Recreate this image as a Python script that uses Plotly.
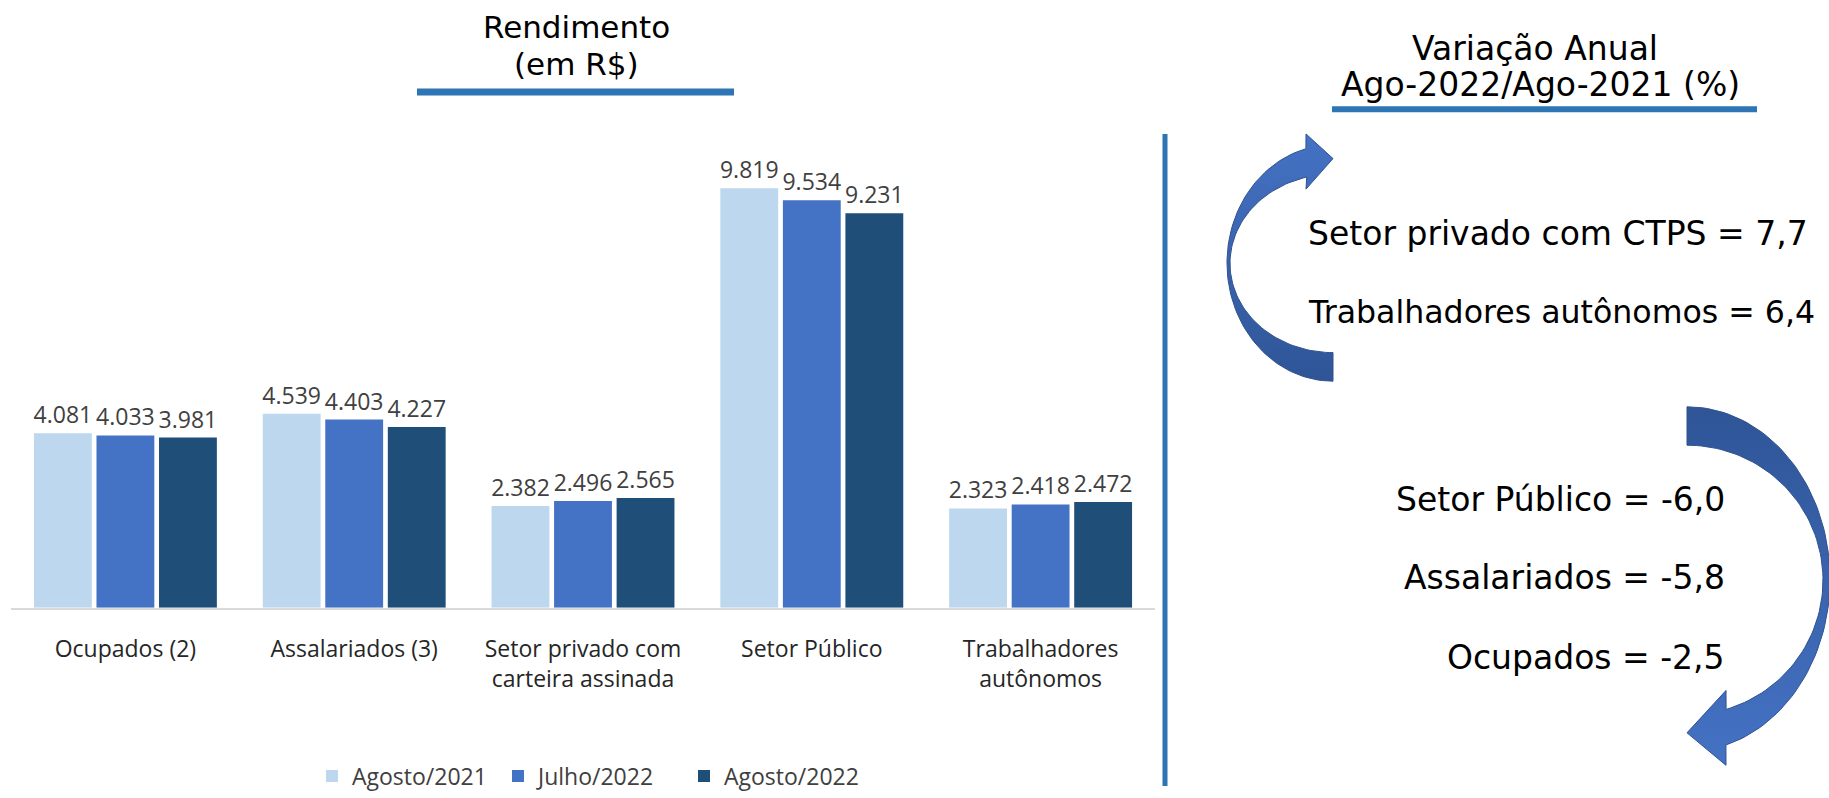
import numpy as np
import plotly.graph_objects as go

W, H = 1829, 798

# ---------------- data ----------------
categories = ["Ocupados (2)", "Assalariados (3)", "Setor privado com<br>carteira assinada",
              "Setor Público", "Trabalhadores<br>autônomos"]
series_names = ["Agosto/2021", "Julho/2022", "Agosto/2022"]
ago_2021 = [4081, 4539, 2382, 9819, 2323]
jul_2022 = [4033, 4403, 2496, 9534, 2418]
ago_2022 = [3981, 4227, 2565, 9231, 2472]

var_up_labels = ["Setor privado com CTPS", "Trabalhadores autônomos"]
var_up_values = [7.7, 6.4]
var_down_labels = ["Setor Público", "Assalariados", "Ocupados"]
var_down_values = [-6.0, -5.8, -2.5]

title_left = ["Rendimento", "(em R$)"]
title_right = ["Variação Anual", "Ago-2022/Ago-2021 (%)"]

# ---------------- styling ----------------
bar_colors = ["#BDD7EE", "#4472C4", "#1F4E79"]
accent = "#2E75B6"
cat_font = "Open Sans"
txt_font = "DejaVu Sans"


def px(x, y):
    return x / W, 1 - y / H


fig = go.Figure()
for name, vals, col in zip(series_names, [ago_2021, jul_2022, ago_2022], bar_colors):
    fig.add_trace(go.Bar(
        x=categories, y=vals, name=name,
        marker=dict(color=col, line=dict(width=0)),
        texttemplate="%{y:,.0f}", textposition="outside", constraintext="none",
        cliponaxis=False,
        textfont=dict(family=cat_font, size=23, color="#404040"),
        hoverinfo="x+y+name",
    ))

# ---------------- arrows (decoration, pixel coordinates on overlay axes) ----------------
def ellipse(cx, cy, rx, ry, t0, t1, n=80):
    t = np.radians(np.linspace(t0, t1, n))
    return list(cx + rx * np.cos(t)), list(cy + ry * np.sin(t))

# upper arrow (pointing right at top)
ox, oy = ellipse(1333, 267, 106, 120, 90, 255.2)
ix, iy = ellipse(1333, 267.4, 103, 90.6, 255.2, 90)
up_x = ox + [1306, 1333, 1306] + ix + [ox[0]]
up_y = oy + [136, 161, 192] + iy + [oy[0]]

# lower arrow (pointing left at bottom)
ox2, oy2 = ellipse(1687, 588, 143, 175, -90, 74.2)
ix2, iy2 = ellipse(1687, 589, 136, 137, 73.3, -90)
dn_x = ox2 + [1726, 1687, 1726] + ix2 + [ox2[0]]
dn_y = oy2 + [777, 744, 701] + iy2 + [oy2[0]]

for xs, ys, c0, c1, y0, y1 in [(up_x, up_y, "#4472C4", "#2F5597", 136, 387),
                               (dn_x, dn_y, "#2F5597", "#4472C4", 413, 777)]:
    fig.add_trace(go.Scatter(
        x=xs, y=ys, xaxis="x2", yaxis="y2", mode="lines", fill="toself",
        fillcolor="#3B65B0",
        fillgradient=dict(type="vertical", colorscale=[[0, c0], [1, c1]], start=y0, stop=y1),
        line=dict(color="#2F528F", width=1), showlegend=False, hoverinfo="skip",
    ))

# ---------------- layout ----------------
y_base, y_top_px = 617, 0
scale = 426 / 9819  # px per unit
ymax = (y_base - y_top_px) / scale

fig.update_layout(
    width=W, height=H, margin=dict(l=0, r=0, t=0, b=0),
    paper_bgcolor="white", plot_bgcolor="rgba(0,0,0,0)",
    separators=",.",
    barmode="group", bargap=0.18, bargroupgap=0.075,
    showlegend=True,
    legend=dict(orientation="h", x=591 / W, xanchor="center", y=1 - 788 / H, yanchor="middle",
                font=dict(family=cat_font, size=23, color="#404040"), traceorder="normal",
                itemwidth=30, entrywidth=141, entrywidthmode="pixels",
                bgcolor="rgba(0,0,0,0)"),
    xaxis=dict(domain=[11 / W, 1155 / W], anchor="y", showline=True, linecolor="#D9D9D9",
               linewidth=1.5, showgrid=False, zeroline=False, ticks="",
               tickfont=dict(family=cat_font, size=23, color="#262626"),
               ticklabelstandoff=20, fixedrange=True),
    yaxis=dict(domain=[1 - y_base / H, 1], anchor="x", range=[0, ymax], visible=False,
               showgrid=False, zeroline=False, fixedrange=True),
    xaxis2=dict(domain=[0, 1], anchor="y2", range=[0, W], visible=False, fixedrange=True),
    yaxis2=dict(domain=[0, 1], anchor="x2", range=[H, 0], visible=False, fixedrange=True),
)

shapes = []
# divider
x0, y0 = px(1165, 136)
shapes.append(dict(type="line", xref="paper", yref="paper", x0=x0, x1=x0, y0=y0, y1=0,
                   line=dict(color=accent, width=5)))
# underlines
for (xa, xb, yy, w) in [(417, 734, 93.5, 7), (1332, 1757, 111, 6)]:
    a = px(xa, yy)
    b = px(xb, yy)
    shapes.append(dict(type="line", xref="paper", yref="paper", x0=a[0], x1=b[0], y0=a[1], y1=b[1],
                       line=dict(color=accent, width=w)))
fig.update_layout(shapes=shapes)

ann = []
for txt, (x, y) in zip(title_left, [(576, 27), (576, 65)]):
    ax, ay = px(x, y)
    ann.append(dict(text=txt, x=ax, y=ay, xref="paper", yref="paper", showarrow=False,
                    xanchor="center", yanchor="middle", font=dict(family=txt_font, size=31, color="black")))
for txt, (x, y) in zip(title_right, [(1535, 49), (1540, 86)]):
    ax, ay = px(x, y)
    ann.append(dict(text=txt, x=ax, y=ay, xref="paper", yref="paper", showarrow=False,
                    xanchor="center", yanchor="middle", font=dict(family=txt_font, size=33, color="black")))


def fmt(v):
    return f"{v:.1f}".replace(".", ",")


for lab, v, y, fs in zip(var_up_labels, var_up_values, [237, 317], [33, 31.6]):
    ax, ay = px(1306, y)
    ann.append(dict(text=f"{lab} = {fmt(v)}", x=ax, y=ay, xref="paper", yref="paper", showarrow=False,
                    xanchor="left", yanchor="middle", font=dict(family=txt_font, size=fs, color="black")))
for lab, v, y in zip(var_down_labels, var_down_values, [507, 586, 668]):
    ax, ay = px(1727, y)
    ann.append(dict(text=f"{lab} = {fmt(v)}", x=ax, y=ay, xref="paper", yref="paper", showarrow=False,
                    xanchor="right", yanchor="middle", font=dict(family=txt_font, size=33, color="black")))
fig.update_layout(annotations=ann)

fig.write_html("out.html", config={"displayModeBar": False},
               post_script="document.body.style.margin='0';document.body.style.overflow='hidden';")
